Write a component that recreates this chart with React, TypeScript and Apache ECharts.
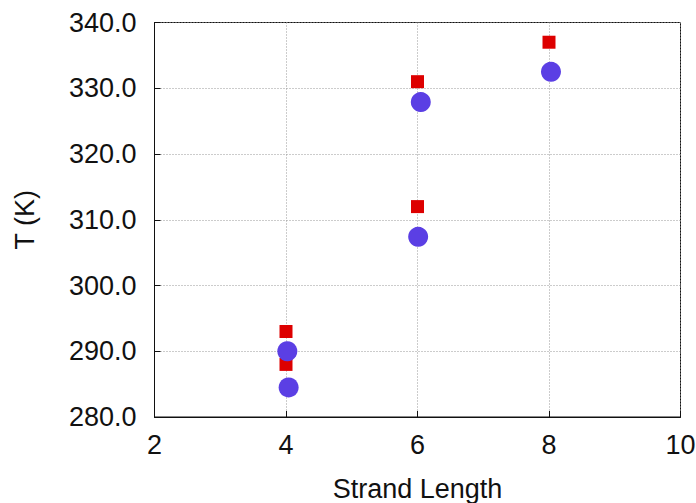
import React, { useEffect, useRef } from "react";
import * as echarts from "echarts";

// Strand length vs. temperature, two measurement sets
const squareX = [4, 4, 6, 6, 8];
const squareT = [293.0, 288.0, 331.0, 312.0, 337.0];

const circleX = [4.02, 4.04, 6.05, 6.01, 8.03];
const circleT = [290.0, 284.5, 327.9, 307.4, 332.5];

const xTicks = [2, 4, 6, 8, 10];
const yTicks = [280, 290, 300, 310, 320, 330, 340];

const FONT = "'Liberation Sans', Arial, Helvetica, sans-serif";

export default function App() {
  const ref = useRef<HTMLDivElement>(null);

  useEffect(() => {
    if (!ref.current) return;
    const chart = echarts.init(ref.current, undefined, { renderer: "svg" });
    const pair = (xs: number[], ys: number[]) => xs.map((x, i) => [x, ys[i]]);

    chart.setOption({
      animation: false,
      backgroundColor: "#ffffff",
      grid: {
        left: 154.5,
        right: 15.5,
        top: 22.5,
        bottom: 86,
        containLabel: false,
        outerBoundsMode: "none",
        show: true,
        borderColor: "#111",
        borderWidth: 1,
        backgroundColor: "transparent",
      },
      xAxis: {
        type: "value",
        min: xTicks[0],
        max: xTicks[xTicks.length - 1],
        interval: 2,
        name: "Strand Length",
        nameLocation: "middle",
        nameGap: 58,
        nameTextStyle: { fontFamily: FONT, fontSize: 27, color: "#111" },
        axisLine: { show: true, lineStyle: { color: "#111", width: 1 } },
        axisTick: { show: true, inside: true, length: 6, lineStyle: { color: "#111" } },
        axisLabel: {
          fontFamily: FONT,
          fontSize: 27,
          color: "#111",
          margin: 14,
        },
        splitLine: {
          show: true,
          lineStyle: { color: "#999", type: [1, 2], width: 1 },
        },
      },
      yAxis: {
        type: "value",
        min: yTicks[0],
        max: yTicks[yTicks.length - 1],
        interval: 10,
        name: "T (K)",
        nameLocation: "middle",
        nameGap: 116,
        nameTextStyle: { fontFamily: FONT, fontSize: 27, color: "#111" },
        axisLine: { show: true, lineStyle: { color: "#111", width: 1 } },
        axisTick: { show: true, inside: true, length: 6, lineStyle: { color: "#111" } },
        axisLabel: {
          fontFamily: FONT,
          fontSize: 27,
          color: "#111",
          margin: 18,
          formatter: (v: number) => v.toFixed(1),
        },
        splitLine: {
          show: true,
          lineStyle: { color: "#999", type: [1, 2], width: 1 },
        },
      },
      series: [
        {
          type: "scatter",
          symbol: "rect",
          symbolSize: 13,
          itemStyle: { color: "#dd0000", opacity: 1 },
          data: pair(squareX, squareT),
          z: 2,
        },
        {
          type: "scatter",
          symbol: "circle",
          symbolSize: 20,
          itemStyle: { color: "#5b3fe4", opacity: 1 },
          data: pair(circleX, circleT),
          z: 3,
        },
      ],
    });

    return () => chart.dispose();
  }, []);

  return <div ref={ref} style={{ width: 696, height: 503, position: "absolute", left: 0, top: 0 }} />;
}
